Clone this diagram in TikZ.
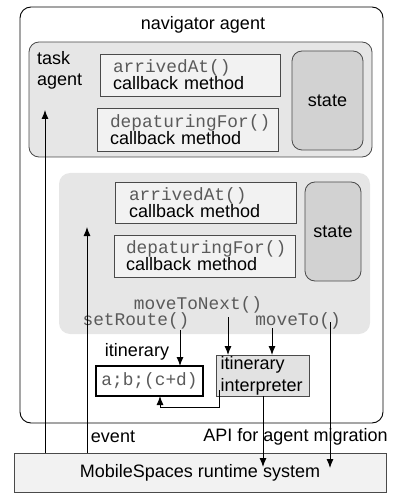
\documentclass[tikz,border=0pt]{standalone}
\usepackage{fontspec}
\setmainfont{Liberation Sans}
\setmonofont{Liberation Mono}
\usetikzlibrary{arrows.meta}
\definecolor{edgegray}{HTML}{4A4A4A}
\definecolor{codegray}{HTML}{5A5A5A}
\definecolor{areagray}{HTML}{E6E6E6}
\definecolor{boxgray}{HTML}{F2F2F2}
\definecolor{stategray}{HTML}{D2D2D2}
\definecolor{interpgray}{HTML}{E2E2E2}
\newcommand{\cde}[1]{{\ttfamily\color{codegray}\fontsize{17.8}{18}\selectfont #1}}
\begin{document}
\begin{tikzpicture}[x=1pt,y=-1pt,
  every node/.style={font=\fontsize{18}{18}\selectfont, inner sep=0pt, outer sep=0pt},
  agentbox/.style={draw=edgegray, line width=0.8pt, fill=areagray, rounded corners=10pt},
  cbbox/.style={draw=edgegray, line width=0.8pt, fill=boxgray, align=left, anchor=north west},
  statebox/.style={draw=edgegray, line width=0.8pt, fill=stategray, rounded corners=10pt},
  arr/.style={line width=0.9pt, -{Latex[length=9pt,width=7pt]}},
  plainline/.style={line width=0.9pt}
]
\useasboundingbox (0,0) rectangle (392,494);

% outer navigator agent
\node[draw, line width=0.9pt, rounded corners=11pt, minimum width=363pt, minimum height=416pt] (nav) at (201.5,215) {};
\node (navlabel) at (203,25) {navigator agent};

% task agent
\node[agentbox, minimum width=343pt, minimum height=115pt] (task) at (200.5,99.5) {};
\node[align=left, anchor=north west, font=\fontsize{18}{21}\selectfont] (tasklabel) at (37,51) {task\\agent};
\node[cbbox, minimum width=180pt, minimum height=42pt, text width=154pt, inner xsep=13pt] (cb1) at (100,54)
  {\cde{arrivedAt()}\\[-1pt]callback method};
\node[cbbox, minimum width=181pt, minimum height=43pt, text width=155pt, inner xsep=13pt] (cb2) at (97,108)
  {\cde{depaturingFor()}\\[-1pt]callback method};
\node[statebox, minimum width=71pt, minimum height=99pt] (state1) at (327.5,100.5) {state};

% lower agent area
\node[fill=areagray, rounded corners=11pt, minimum width=311pt, minimum height=161pt] (area2) at (214.5,253.5) {};
\node[cbbox, minimum width=181pt, minimum height=41pt, text width=153pt, inner xsep=14pt] (cb3) at (115,182)
  {\cde{arrivedAt()}\\[-1pt]callback method};
\node[cbbox, minimum width=181pt, minimum height=42pt, text width=157pt, inner xsep=12pt] (cb4) at (114,235)
  {\cde{depaturingFor()}\\[-1pt]callback method};
\node[statebox, minimum width=56pt, minimum height=99pt] (state2) at (333,231.5) {state};

\node (mtn) at (198,305) {\cde{moveToNext()}};
\node (sr) at (136,321) {\cde{setRoute()}};
\node (mt) at (298,321) {\cde{moveTo()}};

% itinerary
\node[draw, line width=2pt, fill=white, minimum width=107pt, minimum height=30pt] (itin) at (149.5,381) {\cde{a;b;(c+d)}};
\node (itinlabel) at (137,352) {itinerary};
\node[draw=edgegray, line width=0.8pt, fill=interpgray, minimum width=93pt, minimum height=41pt, text width=84pt, inner xsep=4.5pt, align=left, font=\fontsize{18}{22}\selectfont] (interp) at (262.5,375.5) {itinerary\\interpreter};

% runtime
\node[draw=edgegray, line width=0.8pt, fill=boxgray, minimum width=372pt, minimum height=39pt] (rt) at (200,472.5) {MobileSpaces runtime system};
\node (event) at (113,437) {event};
\node (api) at (295.5,437) {API for agent migration};

% connector coordinates
\coordinate (e1t) at (45,110);
\coordinate (e2t) at (87,227);
\coordinate (srs) at (180,330);
\coordinate (mtns) at (228,317);
\coordinate (mts) at (272,328);
\coordinate (mtls) at (330,322);
\coordinate (fbs) at (219,390);
\coordinate (rt1) at (263,467);
\coordinate (rt2) at (330,468);

\draw[arr] (rt.north -| e1t) -- (e1t);
\draw[arr] (rt.north -| e2t) -- (e2t);
\draw[arr] (srs) -- (itin.north -| srs);
\draw[arr] (mtns) -- (interp.north -| mtns);
\draw[arr] (mts) -- (interp.north -| mts);
\draw[arr] (fbs) -- (219,407) -- (160,407) -- (itin.south -| 160,0);
\draw[arr] (interp.south -| rt1) -- (rt1);
\draw[arr] (mtls) -- (rt2);
\end{tikzpicture}
\end{document}
